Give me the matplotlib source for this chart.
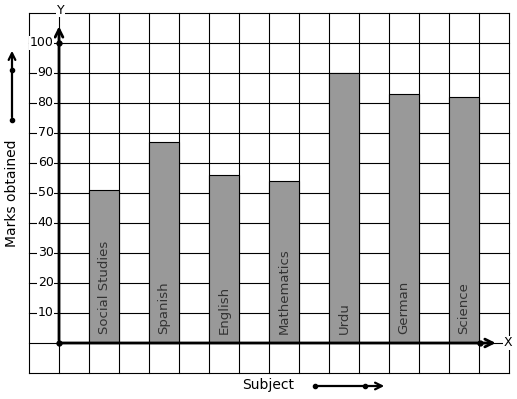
import matplotlib
matplotlib.use("Agg")
import matplotlib.pyplot as plt
import numpy as np

subjects = ["Social Studies", "Spanish", "English", "Mathematics", "Urdu", "German", "Science"]
marks = [51, 67, 56, 54, 90, 83, 82]
y_ticks = [10, 20, 30, 40, 50, 60, 70, 80, 90, 100]

fig = plt.figure(figsize=(5.17, 3.99), dpi=100)
ax = fig.add_axes([0, 0, 1, 1])
ax.set_xlim(-59 / 30, 458 / 30)
ax.set_ylim(-56 / 3, 343 / 3)
ax.axis("off")

# grid paper
for gx in range(-1, 16):
    ax.plot([gx, gx], [-10, 110], color="black", lw=0.8, zorder=1)
for gy in range(-10, 111, 10):
    ax.plot([-1, 15], [gy, gy], color="black", lw=0.8, zorder=1)

# bars
pos = 1.5 + 2 * np.arange(len(subjects))
ax.bar(pos, marks, width=1, color="#999999", edgecolor="black", lw=0.8, zorder=2)
for x, name in zip(pos, subjects):
    ax.text(x, 3, name, rotation=90, ha="center", va="bottom",
            fontsize=9.5, color="#333333", zorder=3)

# axes with arrows
ax.annotate("", xy=(0, 106.5), xytext=(0, 0),
            arrowprops=dict(arrowstyle="->", lw=2, color="black", mutation_scale=14), zorder=4)
ax.annotate("", xy=(14.65, 0), xytext=(0, 0),
            arrowprops=dict(arrowstyle="->", lw=2, color="black", mutation_scale=14), zorder=4)
ax.plot([0, 0, 14.03], [0, 100, 0], "o", color="black", ms=3.5, zorder=5)
ax.text(0.05, 111, "Y", ha="center", va="center", fontsize=9,
        bbox=dict(facecolor="white", edgecolor="none", pad=0.5), zorder=5)
ax.text(14.97, 0, "X", ha="center", va="center", fontsize=9,
        bbox=dict(facecolor="white", edgecolor="none", pad=0.5), zorder=5)

for t in y_ticks:
    ax.text(-0.18, t, str(t), ha="right", va="center", fontsize=9,
            bbox=dict(facecolor="white", edgecolor="none", pad=0.3), zorder=5)

# axis titles with decorative arrows
ax.text(-59 / 30 + 12 / 30, (343 - 193) / 3, "Marks obtained", rotation=90,
        ha="center", va="center", fontsize=10)
ax.annotate("", xy=(-59 / 30 + 12 / 30, (343 - 48) / 3), xytext=(-59 / 30 + 12 / 30, (343 - 120) / 3),
            arrowprops=dict(arrowstyle="->", lw=1.6, color="black", mutation_scale=12))
ax.plot([-59 / 30 + 12 / 30] * 2, [(343 - 120) / 3, (343 - 70) / 3], "o", color="black", ms=3)

ax.text((268 - 59) / 30, (343 - 385) / 3, "Subject", ha="center", va="center", fontsize=10)
ax.annotate("", xy=((387 - 59) / 30, (343 - 386) / 3), xytext=((315 - 59) / 30, (343 - 386) / 3),
            arrowprops=dict(arrowstyle="->", lw=1.6, color="black", mutation_scale=12))
ax.plot([(315 - 59) / 30, (365 - 59) / 30], [(343 - 386) / 3] * 2, "o", color="black", ms=3)

fig.savefig("out.png", dpi=100, facecolor="white")
